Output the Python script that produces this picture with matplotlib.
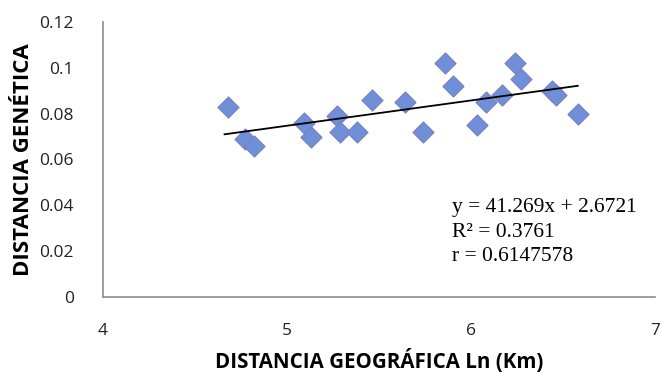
import numpy as np
import matplotlib.pyplot as plt

# ln(km) vs genetic distance
dist_geo = [4.68, 4.77, 4.82, 5.09, 5.13, 5.27, 5.29, 5.38, 5.46, 5.64, 5.74,
            5.86, 5.90, 6.03, 6.08, 6.17, 6.24, 6.27, 6.44, 6.46, 6.58]
dist_gen = [0.083, 0.069, 0.066, 0.076, 0.070, 0.079, 0.072, 0.072, 0.086, 0.085, 0.072,
            0.102, 0.092, 0.075, 0.085, 0.088, 0.102, 0.095, 0.090, 0.088, 0.080]
x_ticks = [4, 5, 6, 7]
y_ticks = [0, 0.02, 0.04, 0.06, 0.08, 0.1, 0.12]
y_tick_labels = ['0', '0.02', '0.04', '0.06', '0.08', '0.1', '0.12']
eq_lines = ['y = 41.269x + 2.6721', 'R² = 0.3761', 'r = 0.6147578']

fig = plt.figure(figsize=(6.61, 3.73), dpi=100)
ax = fig.add_axes([0.156, 0.204, 0.835, 0.737])

ax.scatter(dist_geo, dist_gen, marker='D', s=115, color='#6f8fd8',
           edgecolors='#7a7fc0', linewidths=0.8, zorder=3)

# linear trendline over the data range
m, b = np.polyfit(dist_geo, dist_gen, 1)
xs = np.array([min(dist_geo) - 0.02, max(dist_geo)])
ax.plot(xs, m * xs + b, color='black', lw=1.3, zorder=4)

ax.set_xlim(4, 7)
ax.set_ylim(0, 0.12)
ax.set_xticks(x_ticks)
ax.set_yticks(y_ticks)
ax.set_yticklabels(y_tick_labels)
ax.tick_params(length=0, labelsize=12.5, pad=19, colors='#222222')
ax.tick_params(axis='y', pad=21)

for s in ['top', 'right']:
    ax.spines[s].set_visible(False)
for s in ['left', 'bottom']:
    ax.spines[s].set_color('#8c8c8c')
    ax.spines[s].set_linewidth(1.2)

ax.set_xlabel('DISTANCIA GEOGRÁFICA Ln (Km)', fontsize=14.8, fontweight='bold',
              family='Open Sans', labelpad=7)
ax.set_ylabel('DISTANCIA GENÉTICA', fontsize=16, fontweight='bold',
              family='Open Sans', labelpad=4)
for lab in ax.get_xticklabels() + ax.get_yticklabels():
    lab.set_family('Open Sans')

ax.text(0.632, 0.36, '\n'.join(eq_lines), transform=ax.transAxes,
        family='Liberation Serif', fontsize=15.5, va='top', ha='left',
        linespacing=1.4)

fig.savefig('out.png', dpi=100)
